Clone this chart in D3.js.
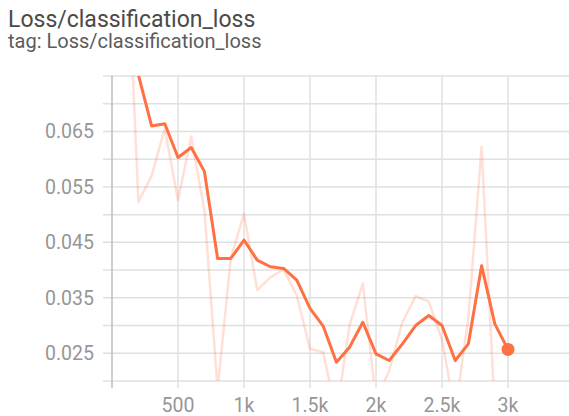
<!DOCTYPE html>
<html>
<head>
<meta charset="utf-8">
<script src="https://cdn.jsdelivr.net/npm/d3@7"></script>
<style>
  body { margin: 0; background: #fff; font-family: Roboto, sans-serif; }
  .grid line { stroke: #e0e0e0; stroke-width: 1.5; }
  .tick-label { fill: #969696; font-size: 19.5px; }
</style>
</head>
<body>
<svg id="chart" width="569" height="416"></svg>
<script>
const title = "Loss/classification_loss";
const subtitle = "tag: Loss/classification_loss";

const steps = [100, 200, 300, 400, 500, 600, 700, 800, 900, 1000,
  1100, 1200, 1300, 1400, 1500, 1600, 1700, 1800, 1900, 2000,
  2100, 2200, 2300, 2400, 2500, 2600, 2700, 2800, 2900, 3000];

const rawLoss = [0.107, 0.0523, 0.0570, 0.0655, 0.0526, 0.0641, 0.0508, 0.0185, 0.0421, 0.0502,
  0.0364, 0.0387, 0.0401, 0.0354, 0.0258, 0.0252, 0.0140, 0.0301, 0.0376, 0.0164,
  0.0219, 0.0306, 0.0353, 0.0343, 0.0274, 0.0143, 0.0315, 0.0622, 0.0144, 0.0188];

const smoothLoss = [0.090, 0.0752, 0.0660, 0.0664, 0.0603, 0.0621, 0.0578, 0.0421, 0.0421, 0.0454,
  0.0418, 0.0406, 0.0403, 0.0382, 0.0331, 0.0299, 0.0234, 0.0261, 0.0306, 0.0249,
  0.0237, 0.0267, 0.0300, 0.0318, 0.0300, 0.0237, 0.0267, 0.0408, 0.0303, 0.0257];

const xTicks = [0, 500, 1000, 1500, 2000, 2500, 3000];
const xTickLabels = ["", "500", "1k", "1.5k", "2k", "2.5k", "3k"];
const yTicks = [0.020, 0.025, 0.030, 0.035, 0.040, 0.045, 0.050, 0.055, 0.060, 0.065, 0.070, 0.075];
const yLabelled = [0.025, 0.035, 0.045, 0.055, 0.065];

const width = 569;
const xScale = d3.scaleLinear().domain([0, 3000]).range([112, 508]);
const yScale = d3.scaleLinear().domain([0.020, 0.075]).range([381, 76]);

const svg = d3.select("#chart");

svg.append("text")
  .attr("x", 8)
  .attr("y", 27)
  .attr("fill", "#4a4a4a")
  .attr("font-size", "23px")
  .text(title);

svg.append("text")
  .attr("x", 8)
  .attr("y", 48)
  .attr("fill", "#5c5c5c")
  .attr("font-size", "20px")
  .text(subtitle);

// grid
const grid = svg.append("g").attr("class", "grid");

grid.selectAll("line.h")
  .data(yTicks)
  .enter()
  .append("line")
  .attr("class", "h")
  .attr("x1", xScale(0) - 9)
  .attr("x2", width)
  .attr("y1", d => yScale(d))
  .attr("y2", d => yScale(d));

grid.selectAll("line.v")
  .data(xTicks)
  .enter()
  .append("line")
  .attr("class", "v")
  .attr("x1", d => xScale(d))
  .attr("x2", d => xScale(d))
  .attr("y1", yScale(0.075))
  .attr("y2", yScale(0.020) + 7)
  .style("stroke", d => d === 0 ? "#bdbdbd" : null);

svg.append("g")
  .selectAll("text")
  .data(yLabelled)
  .enter()
  .append("text")
  .attr("class", "tick-label")
  .attr("x", 94)
  .attr("y", d => yScale(d))
  .attr("dy", "0.36em")
  .attr("text-anchor", "end")
  .text(d => d3.format(".3f")(d));

svg.append("g")
  .selectAll("text")
  .data(xTicks)
  .enter()
  .append("text")
  .attr("class", "tick-label")
  .attr("x", d => xScale(d))
  .attr("y", 412)
  .attr("text-anchor", "middle")
  .text((d, i) => xTickLabels[i]);

svg.append("clipPath")
  .attr("id", "plot-clip")
  .append("rect")
  .attr("x", xScale(0))
  .attr("y", yScale(0.075))
  .attr("width", width - xScale(0))
  .attr("height", yScale(0.020) - yScale(0.075));

const line = d3.line()
  .x((d, i) => xScale(steps[i]))
  .y(d => yScale(d));

const plot = svg.append("g").attr("clip-path", "url(#plot-clip)");

plot.append("path")
  .datum(rawLoss)
  .attr("fill", "none")
  .attr("stroke", "#ff7043")
  .attr("stroke-opacity", 0.22)
  .attr("stroke-width", 2.5)
  .attr("stroke-linejoin", "round")
  .attr("d", line);

plot.append("path")
  .datum(smoothLoss)
  .attr("fill", "none")
  .attr("stroke", "#ff7043")
  .attr("stroke-width", 3)
  .attr("stroke-linejoin", "round")
  .attr("d", line);

const last = steps.length - 1;
svg.append("circle")
  .attr("cx", xScale(steps[last]))
  .attr("cy", yScale(smoothLoss[last]))
  .attr("r", 6.5)
  .attr("fill", "#ff7043");
</script>
</body>
</html>
